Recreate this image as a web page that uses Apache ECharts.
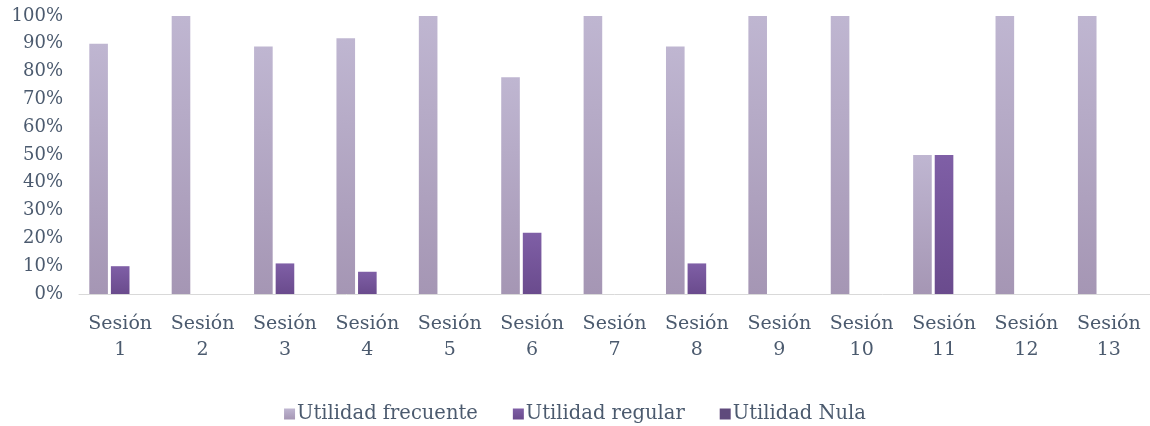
<!DOCTYPE html>
<html>
<head>
<meta charset="utf-8">
<script src="https://cdn.jsdelivr.net/npm/echarts@6/dist/echarts.min.js"></script>
<style>
  html, body { margin: 0; padding: 0; background: #fff; }
  #chart { width: 1150px; height: 426px; }
</style>
</head>
<body>
<div id="chart"></div>
<script>
var sessions = ['Sesión\n1', 'Sesión\n2', 'Sesión\n3', 'Sesión\n4', 'Sesión\n5', 'Sesión\n6', 'Sesión\n7',
  'Sesión\n8', 'Sesión\n9', 'Sesión\n10', 'Sesión\n11', 'Sesión\n12', 'Sesión\n13'];
var frecuente = [90, 100, 89, 92, 100, 78, 100, 89, 100, 100, 50, 100, 100];
var regular = [10, 0, 11, 8, 0, 22, 0, 11, 0, 0, 50, 0, 0];
var nula = [0, 0, 0, 0, 0, 0, 0, 0, 0, 0, 0, 0, 0];
var seriesNames = ['Utilidad frecuente', 'Utilidad regular', 'Utilidad Nula'];

var textColor = '#4b5a6e';
var fontFam = '"DejaVu Serif", serif';

function grad(top, bottom) {
  return new echarts.graphic.LinearGradient(0, 0, 0, 1, [
    { offset: 0, color: top },
    { offset: 1, color: bottom }
  ]);
}

var chart = echarts.init(document.getElementById('chart'));
chart.setOption({
  animation: false,
  grid: { left: 79, right: 0, top: 16, bottom: 132, containLabel: false },
  legend: {
    data: seriesNames,
    top: 399,
    left: 'center',
    icon: 'rect',
    itemWidth: 11,
    itemHeight: 11,
    itemGap: 35,
    textStyle: { color: textColor, fontFamily: fontFam, fontSize: 19.5, padding: [0, 0, 0, -3] }
  },
  xAxis: {
    type: 'category',
    data: sessions,
    axisLine: { lineStyle: { color: '#d9d9d9' } },
    axisTick: { show: false },
    axisLabel: {
      color: textColor, fontFamily: fontFam, fontSize: 19, lineHeight: 26,
      margin: 17, interval: 0
    }
  },
  yAxis: {
    type: 'value',
    min: 0, max: 100, interval: 10,
    splitLine: { show: false },
    axisLine: { show: false },
    axisTick: { show: false },
    axisLabel: {
      formatter: '{value}%', color: textColor, fontFamily: fontFam, fontSize: 18, margin: 16
    }
  },
  series: [
    {
      name: seriesNames[0], type: 'bar', data: frecuente,
      barCategoryGap: '25%', barGap: '16%',
      itemStyle: { color: grad('#bfb6d1', '#a596b4') }
    },
    {
      name: seriesNames[1], type: 'bar', data: regular,
      itemStyle: { color: grad('#7f5fa6', '#6a4b8d') }
    },
    {
      name: seriesNames[2], type: 'bar', data: nula,
      itemStyle: { color: '#5f4a7c' }
    }
  ]
});
</script>
</body>
</html>
